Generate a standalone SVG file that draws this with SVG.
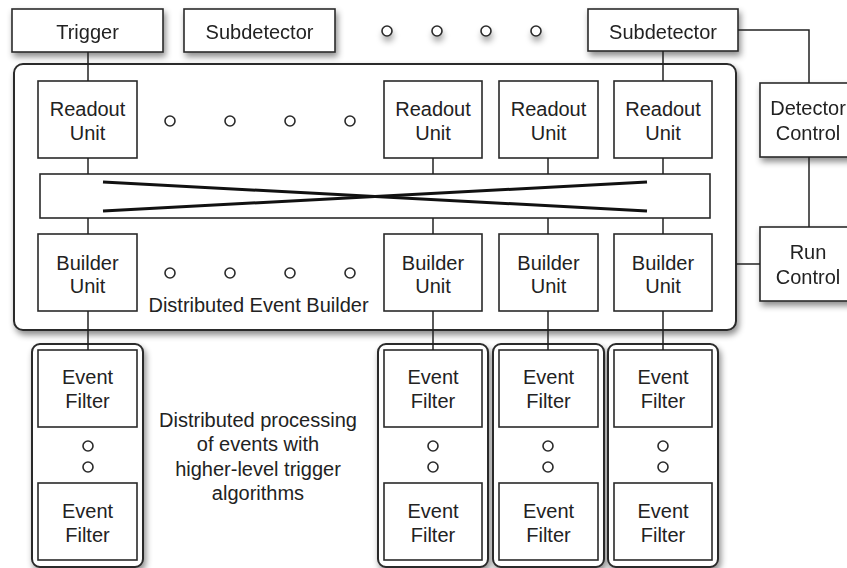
<svg xmlns="http://www.w3.org/2000/svg" width="847" height="568" viewBox="0 0 847 568">
  <defs>
    <filter id="shadow" x="-20%" y="-20%" width="140%" height="150%">
      <feDropShadow dx="2" dy="4" stdDeviation="3" flood-color="#000" flood-opacity="0.45"/>
    </filter>
    <filter id="dotShadow" x="-100%" y="-100%" width="300%" height="400%">
      <feDropShadow dx="1" dy="5" stdDeviation="3" flood-color="#000" flood-opacity="0.35"/>
    </filter>
  </defs>
  <style>
    .box { fill: #fff; stroke: #2a2a2a; stroke-width: 1.6; }
    .frame { fill: #fff; stroke: #2a2a2a; stroke-width: 2; }
    .wire { fill: none; stroke: #222; stroke-width: 1.5; }
    .cross { fill: none; stroke: #111; stroke-width: 3; }
    .dot { fill: #fff; stroke: #2a2a2a; stroke-width: 1.6; }
    text { font-family: "Liberation Sans", Arial, sans-serif; font-size: 20px; fill: #222; text-anchor: middle; }
  </style>

  <rect width="847" height="568" fill="#fff"/>

  <!-- top row: sources -->
  <g id="trigger" filter="url(#shadow)">
    <rect class="box" x="12" y="9" width="151" height="43"/>
    <text x="87.5" y="38.5">Trigger</text>
  </g>
  <g id="subdetector-1" filter="url(#shadow)">
    <rect class="box" x="184" y="9" width="151" height="43"/>
    <text x="259.5" y="38.5">Subdetector</text>
  </g>
  <g id="subdetector-dots" filter="url(#dotShadow)">
    <circle class="dot" cx="387" cy="31" r="5"/>
    <circle class="dot" cx="437" cy="31" r="5"/>
    <circle class="dot" cx="486" cy="31" r="5"/>
    <circle class="dot" cx="536" cy="31" r="5"/>
  </g>
  <g id="subdetector-n" filter="url(#shadow)">
    <rect class="box" x="588" y="9" width="150" height="42"/>
    <text x="663" y="38.5">Subdetector</text>
  </g>

  <!-- control nodes on the right -->
  <g id="detector-control" filter="url(#shadow)">
    <rect class="box" x="760" y="83" width="110" height="74"/>
    <text x="808" y="115">Detector</text>
    <text x="808" y="140">Control</text>
  </g>
  <g id="run-control" filter="url(#shadow)">
    <rect class="box" x="760" y="227" width="110" height="74"/>
    <text x="808" y="259">Run</text>
    <text x="808" y="284">Control</text>
  </g>

  <!-- distributed event builder -->
  <g id="event-builder">
    <rect class="frame" x="14" y="64" width="722" height="266" rx="9" filter="url(#shadow)"/>
    <text x="258.5" y="312">Distributed Event Builder</text>
  </g>

  <g id="readout-1">
    <rect class="box" x="38" y="81" width="99" height="77"/>
    <text x="87.5" y="116">Readout</text>
    <text x="87.5" y="140">Unit</text>
  </g>
  <g id="readout-dots">
    <circle class="dot" cx="170" cy="121" r="5"/>
    <circle class="dot" cx="230" cy="121" r="5"/>
    <circle class="dot" cx="290" cy="121" r="5"/>
    <circle class="dot" cx="350" cy="121" r="5"/>
  </g>
  <g id="readout-2">
    <rect class="box" x="384" y="81" width="98" height="77"/>
    <text x="433" y="116">Readout</text>
    <text x="433" y="140">Unit</text>
  </g>
  <g id="readout-3">
    <rect class="box" x="499" y="81" width="99" height="77"/>
    <text x="548.5" y="116">Readout</text>
    <text x="548.5" y="140">Unit</text>
  </g>
  <g id="readout-4">
    <rect class="box" x="614" y="81" width="98" height="77"/>
    <text x="663" y="116">Readout</text>
    <text x="663" y="140">Unit</text>
  </g>

  <g id="switch">
    <rect class="box" x="40" y="174" width="670" height="44"/>
    <line class="cross" x1="103" y1="182" x2="647" y2="211"/>
    <line class="cross" x1="103" y1="211" x2="647" y2="182"/>
  </g>

  <g id="builder-1">
    <rect class="box" x="38" y="234" width="99" height="77"/>
    <text x="87.5" y="270">Builder</text>
    <text x="87.5" y="293">Unit</text>
  </g>
  <g id="builder-dots">
    <circle class="dot" cx="170" cy="273" r="5"/>
    <circle class="dot" cx="230" cy="273" r="5"/>
    <circle class="dot" cx="290" cy="273" r="5"/>
    <circle class="dot" cx="350" cy="273" r="5"/>
  </g>
  <g id="builder-2">
    <rect class="box" x="384" y="234" width="98" height="77"/>
    <text x="433" y="270">Builder</text>
    <text x="433" y="293">Unit</text>
  </g>
  <g id="builder-3">
    <rect class="box" x="499" y="234" width="99" height="77"/>
    <text x="548.5" y="270">Builder</text>
    <text x="548.5" y="293">Unit</text>
  </g>
  <g id="builder-4">
    <rect class="box" x="614" y="234" width="98" height="77"/>
    <text x="663" y="270">Builder</text>
    <text x="663" y="293">Unit</text>
  </g>

  <!-- event filter farms -->
  <g id="filter-column-1">
    <rect class="frame" x="32" y="344" width="111" height="223" rx="8" filter="url(#shadow)"/>
    <rect class="box" x="38" y="350" width="99" height="77"/>
    <text x="87.5" y="384">Event</text>
    <text x="87.5" y="408">Filter</text>
    <circle class="dot" cx="88" cy="446" r="5"/>
    <circle class="dot" cx="88" cy="467" r="5"/>
    <rect class="box" x="38" y="483" width="99" height="77"/>
    <text x="87.5" y="518">Event</text>
    <text x="87.5" y="542">Filter</text>
  </g>
  <g id="filter-note">
    <text x="258" y="427">Distributed processing</text>
    <text x="258" y="451">of events with</text>
    <text x="258" y="476">higher-level trigger</text>
    <text x="258" y="500">algorithms</text>
  </g>
  <g id="filter-column-2">
    <rect class="frame" x="378" y="344" width="110" height="223" rx="8" filter="url(#shadow)"/>
    <rect class="box" x="384" y="350" width="98" height="77"/>
    <text x="433" y="384">Event</text>
    <text x="433" y="408">Filter</text>
    <circle class="dot" cx="433" cy="446" r="5"/>
    <circle class="dot" cx="433" cy="467" r="5"/>
    <rect class="box" x="384" y="483" width="98" height="77"/>
    <text x="433" y="518">Event</text>
    <text x="433" y="542">Filter</text>
  </g>
  <g id="filter-column-3">
    <rect class="frame" x="493" y="344" width="111" height="223" rx="8" filter="url(#shadow)"/>
    <rect class="box" x="499" y="350" width="99" height="77"/>
    <text x="548.5" y="384">Event</text>
    <text x="548.5" y="408">Filter</text>
    <circle class="dot" cx="548" cy="446" r="5"/>
    <circle class="dot" cx="548" cy="467" r="5"/>
    <rect class="box" x="499" y="483" width="99" height="77"/>
    <text x="548.5" y="518">Event</text>
    <text x="548.5" y="542">Filter</text>
  </g>
  <g id="filter-column-4">
    <rect class="frame" x="608" y="344" width="110" height="223" rx="8" filter="url(#shadow)"/>
    <rect class="box" x="614" y="350" width="98" height="77"/>
    <text x="663" y="384">Event</text>
    <text x="663" y="408">Filter</text>
    <circle class="dot" cx="663" cy="446" r="5"/>
    <circle class="dot" cx="663" cy="467" r="5"/>
    <rect class="box" x="614" y="483" width="98" height="77"/>
    <text x="663" y="518">Event</text>
    <text x="663" y="542">Filter</text>
  </g>

  <!-- connectors -->
  <g id="connectors">
    <line class="wire" x1="88" y1="52" x2="88" y2="81"/>
    <line class="wire" x1="663" y1="51" x2="663" y2="81"/>
    <line class="wire" x1="88" y1="158" x2="88" y2="174"/>
    <line class="wire" x1="433" y1="158" x2="433" y2="174"/>
    <line class="wire" x1="548" y1="158" x2="548" y2="174"/>
    <line class="wire" x1="663" y1="158" x2="663" y2="174"/>
    <line class="wire" x1="88" y1="218" x2="88" y2="234"/>
    <line class="wire" x1="433" y1="218" x2="433" y2="234"/>
    <line class="wire" x1="548" y1="218" x2="548" y2="234"/>
    <line class="wire" x1="663" y1="218" x2="663" y2="234"/>
    <line class="wire" x1="88" y1="311" x2="88" y2="350"/>
    <line class="wire" x1="433" y1="311" x2="433" y2="350"/>
    <line class="wire" x1="548" y1="311" x2="548" y2="350"/>
    <line class="wire" x1="663" y1="311" x2="663" y2="350"/>
    <polyline class="wire" points="738,30 809,30 809,83"/>
    <line class="wire" x1="809" y1="157" x2="809" y2="227"/>
    <line class="wire" x1="736" y1="264" x2="760" y2="264"/>
  </g>
</svg>
